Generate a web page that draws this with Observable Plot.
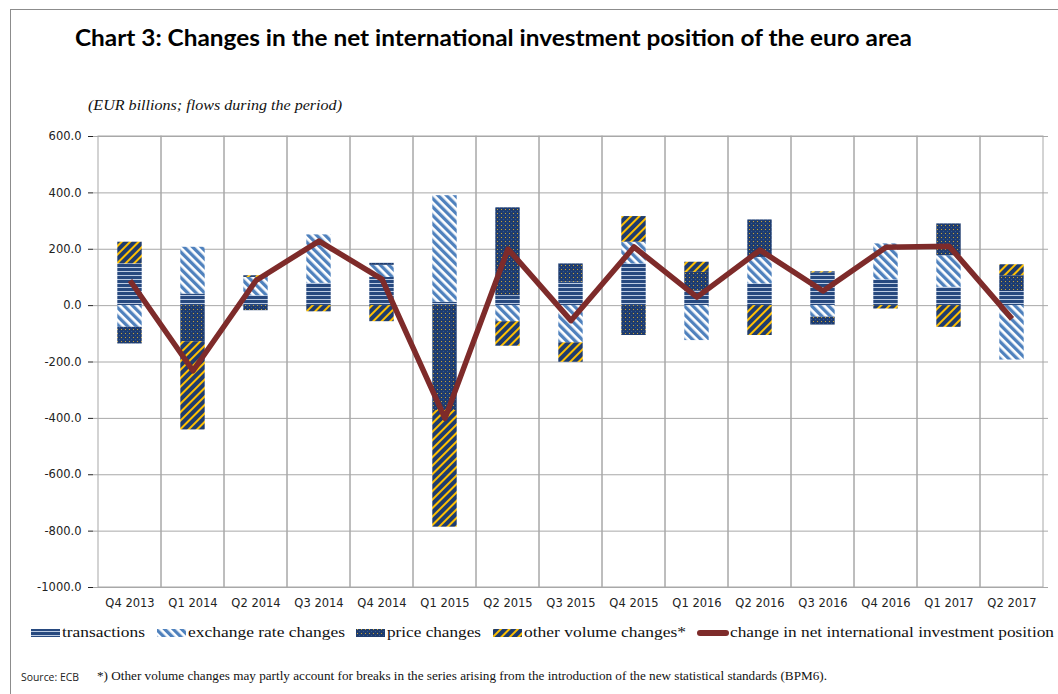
<!DOCTYPE html>
<html><head><meta charset="utf-8">
<script src="https://cdn.jsdelivr.net/npm/d3@7"></script>
<script src="https://cdn.jsdelivr.net/npm/@observablehq/plot@0.6"></script>
<style>
body{margin:0;background:#fff;}
#wrap{position:relative;width:1058px;height:694px;overflow:hidden;background:#fff;}
#plot{position:absolute;left:0;top:116px;}
#overlay{position:absolute;left:0;top:0;}
</style></head><body><div id="wrap"><div id="plot"></div></div>
<script>
// ---- data (EUR billions) ----
const quarters = ["Q4 2013","Q1 2014","Q2 2014","Q3 2014","Q4 2014","Q1 2015","Q2 2015","Q3 2015","Q4 2015","Q1 2016","Q2 2016","Q3 2016","Q4 2016","Q1 2017","Q2 2017"];
const seriesNames = ["transactions","exchange rate changes","price changes","other volume changes*"];
const transactions   = [148,   41,  35,  79, 100,   12,  35,   83, 148,   53,   77, 116,  91,  65,   50];
const exchangeRate   = [-77,  166,  65, 172,  43,  378, -57, -132,  77, -124,   94, -41, 128, 112, -193];
const priceChanges   = [-59, -128, -18,   0,   7, -372, 312,   65,-106,   65,  133, -28,   0, 113,   56];
const otherVolume    = [ 77, -313,   6, -22, -57, -414, -87,  -69,  91,   36, -106,   4, -12, -77,   39];
const netPosition    = [ 89, -231,  89, 229,  94, -400, 201,  -53, 208,   30,  197,  52, 207, 211,  -47];
const lineName = "change in net international investment position";
const yTicks = [600, 400, 200, 0, -200, -400, -600, -800, -1000];

const title = "Chart 3: Changes in the net international investment position of the euro area";
const subtitle = "(EUR billions; flows during the period)";
const sourceText = "Source: ECB";
const noteText = "*) Other volume changes  may partly account for breaks in  the series  arising  from the introduction of  the new statistical standards (BPM6).";

// ---- build tables ----
const seriesArrays = [transactions, exchangeRate, priceChanges, otherVolume];
const rows = [];
quarters.forEach((q, i) => seriesArrays.forEach((arr, k) => rows.push({q, series: seriesNames[k], value: arr[i]})));
const lineRows = quarters.map((q, i) => ({q, value: netPosition[i]}));
const patternIds = ["pat-trans", "pat-exch", "pat-price", "pat-other"];

const chart = Plot.plot({
  width: 1058, height: 500,
  marginLeft: 93, marginRight: 10, marginTop: 20, marginBottom: 29,
  style: {fontFamily: "'DejaVu Sans', sans-serif", fontSize: "11.5px", color: "#222", background: "transparent", overflow: "visible"},
  x: {domain: quarters, padding: 0, tickSize: 0, tickPadding: 11, label: null},
  y: {domain: [yTicks[yTicks.length - 1], yTicks[0]], ticks: yTicks, tickSize: 5, tickPadding: 7, tickFormat: d => d.toFixed(1), label: null},
  color: {type: "ordinal", domain: seriesNames, range: patternIds.map(id => `url(#${id})`)},
  marks: [
    Plot.ruleY(yTicks, {stroke: "#a8a8a8", strokeWidth: 1}),
    Plot.barY(quarters, {x: d => d, y1: yTicks[yTicks.length - 1], y2: yTicks[0], fill: "none", stroke: "#a8a8a8", strokeWidth: 1}),
    Plot.barY(rows, Plot.stackY({x: "q", y: "value", fill: "series", insetLeft: 19.3, insetRight: 19.3})),
    Plot.line(lineRows, {x: "q", y: "value", stroke: "#7e2b2a", strokeWidth: 5.5, strokeLinejoin: "round", strokeLinecap: "butt"})
  ]
});
document.getElementById("plot").appendChild(chart);

// ---- patterns ----
const defs = d3.select(chart).insert("defs", ":first-child");
const navy = "#1f3c6e";
// transactions: navy with light horizontal lines
let p = defs.append("pattern").attr("id", patternIds[0]).attr("patternUnits", "userSpaceOnUse").attr("width", 4).attr("height", 4);
p.append("rect").attr("width", 4).attr("height", 4).attr("fill", "#27497f");
p.append("rect").attr("y", 3).attr("width", 4).attr("height", 1.2).attr("fill", "#bccbe2");
// exchange rate: white with blue "\" stripes
p = defs.append("pattern").attr("id", patternIds[1]).attr("patternUnits", "userSpaceOnUse").attr("width", 6).attr("height", 6).attr("patternTransform", "rotate(-45)");
p.append("rect").attr("width", 6).attr("height", 6).attr("fill", "#ffffff");
p.append("rect").attr("width", 3.3).attr("height", 6).attr("fill", "#4f81bd");
// price changes: navy with yellow dots
p = defs.append("pattern").attr("id", patternIds[2]).attr("patternUnits", "userSpaceOnUse").attr("width", 4).attr("height", 4);
p.append("rect").attr("width", 4).attr("height", 4).attr("fill", navy);
p.append("rect").attr("x", 1).attr("y", 1).attr("width", 1).attr("height", 1).attr("fill", "#c9a336");
p.append("rect").attr("x", 3).attr("y", 3).attr("width", 1).attr("height", 1).attr("fill", "#2f5a96");
// other volume: navy with yellow "/" stripes
p = defs.append("pattern").attr("id", patternIds[3]).attr("patternUnits", "userSpaceOnUse").attr("width", 6).attr("height", 6).attr("patternTransform", "rotate(45)");
p.append("rect").attr("width", 6).attr("height", 6).attr("fill", navy);
p.append("rect").attr("width", 2).attr("height", 6).attr("fill", "#ffc000");

// ---- overlay: titles, legend, footer ----
const ov = d3.select("#wrap").append("svg").attr("id", "overlay").attr("width", 1058).attr("height", 694);
ov.append("rect").attr("x", 10.5).attr("y", 9.5).attr("width", 1100).attr("height", 800).attr("fill", "none").attr("stroke", "#8c8c8c").attr("stroke-width", 1);
ov.append("text").attr("x", 75).attr("y", 46).attr("textLength", 837).attr("lengthAdjust", "spacingAndGlyphs")
  .style("font", "bold 23px Lato, 'Open Sans', sans-serif").attr("fill", "#000").text(title);
ov.append("text").attr("x", 88).attr("y", 110).attr("textLength", 254).attr("lengthAdjust", "spacingAndGlyphs")
  .style("font", "italic 15px 'Liberation Serif', serif").attr("fill", "#111").text(subtitle);

const legendItems = [
  {name: seriesNames[0], fill: `url(#${patternIds[0]})`, sx: 31, tx: 62, tl: 83},
  {name: seriesNames[1], fill: `url(#${patternIds[1]})`, sx: 157, tx: 188, tl: 157},
  {name: seriesNames[2], fill: `url(#${patternIds[2]})`, sx: 356, tx: 387, tl: 94},
  {name: seriesNames[3], fill: `url(#${patternIds[3]})`, sx: 493, tx: 524, tl: 162},
  {name: lineName, line: true, sx: 697, tx: 730, tl: 324}
];
legendItems.forEach(it => {
  if (it.line) {
    ov.append("line").attr("x1", it.sx + 3).attr("x2", it.sx + 29).attr("y1", 633).attr("y2", 633)
      .attr("stroke", "#7e2b2a").attr("stroke-width", 6).attr("stroke-linecap", "round");
  } else {
    ov.append("rect").attr("x", it.sx).attr("y", 629).attr("width", 29).attr("height", 8).attr("fill", it.fill);
  }
  ov.append("text").attr("x", it.tx).attr("y", 637).attr("textLength", it.tl).attr("lengthAdjust", "spacingAndGlyphs")
    .style("font", "15px 'Liberation Serif', serif").attr("fill", "#111").text(it.name);
});
ov.append("text").attr("x", 21).attr("y", 681).attr("textLength", 58).attr("lengthAdjust", "spacingAndGlyphs")
  .style("font", "10.5px 'Open Sans', sans-serif").attr("fill", "#222").text(sourceText);
ov.append("text").attr("x", 97).attr("y", 680).attr("textLength", 730).attr("lengthAdjust", "spacingAndGlyphs")
  .style("font", "13px 'Liberation Serif', serif").attr("fill", "#111").text(noteText);
</script>
</body></html>
